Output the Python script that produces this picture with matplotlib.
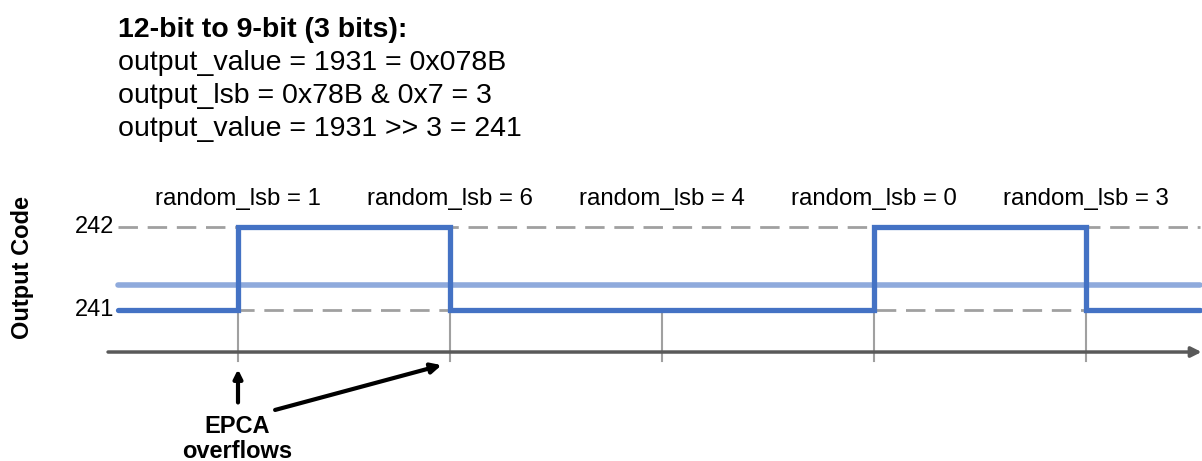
import matplotlib.pyplot as plt

plt.rcParams['font.family'] = ['Liberation Sans', 'DejaVu Sans']

# ---- data ----
header_lines = ["output_value = 1931 = 0x078B",
                "output_lsb = 0x78B & 0x7 = 3",
                "output_value = 1931 >> 3 = 241"]
header_title = "12-bit to 9-bit (3 bits):"

boundaries = [1, 2, 3, 4, 5]            # EPCA overflow instants (periods)
random_lsb = [1, 6, 4, 0, 3]
seg_edges = [0.434, 1, 2, 3, 4, 5, 5.538]
out_codes = [241, 242, 241, 241, 242, 241]
avg_code = 241.3                      # average output level (light line)
code_ticks = [241, 242]

BLUE = '#4472C4'
LIGHT = '#8FAADC'
GRAY = '#A0A0A0'
DARK = '#595959'

fig = plt.figure(figsize=(12.02, 4.61), dpi=100)
ax = fig.add_axes([0, 0, 1, 1])
ax.set_xlim(-0.1226, 5.547)
ax.set_ylim(239.175, 244.729)
ax.axis('off')

x0, x1 = seg_edges[0], seg_edges[-1]

# dashed reference levels
for c in code_ticks:
    ax.plot([x0, x1], [c, c], color=GRAY, lw=2, ls=(0, (7, 3.5)), zorder=1)
    ax.text(x0 - 0.02, c, str(c), ha='right', va='center', fontsize=17)

# vertical tick lines at boundaries
axis_y = 240.488
for b in boundaries:
    ax.plot([b, b], [241, 240.38], color=GRAY, lw=1.5, zorder=1)

# time axis with arrow
ax.annotate('', xy=(5.545, axis_y), xytext=(0.387, axis_y),
            arrowprops=dict(arrowstyle='-|>,head_length=0.6,head_width=0.3',
                            color=DARK, lw=2.5, shrinkA=0, shrinkB=0), zorder=2)

# average level and output code
ax.plot([x0, x1], [avg_code, avg_code], color=LIGHT, lw=4, solid_capstyle='round', zorder=3)
ax.step(seg_edges, out_codes + [out_codes[-1]], where='post', color=BLUE, lw=3.8,
        solid_capstyle='round', solid_joinstyle='miter', zorder=4)

# random_lsb labels
for b, r in zip(boundaries, random_lsb):
    ax.text(b, 242.33, f"random_lsb = {r}", ha='center', va='center', fontsize=17.3)

# header text
fig.text(118 / 1202, 1 - 30 / 461, header_title, fontsize=20.5, fontweight='bold', va='center')
for i, line in enumerate(header_lines):
    fig.text(118 / 1202, 1 - (63 + 33 * i) / 461, line, fontsize=20.5, va='center')

# y label
fig.text(22 / 1202, 1 - 267 / 461, "Output Code", rotation=90, fontsize=17,
         fontweight='bold', ha='center', va='center')

# EPCA overflow annotation
ax.annotate('', xy=(1, 240.28), xytext=(1, 239.88),
            arrowprops=dict(arrowstyle='-|>,head_length=0.5,head_width=0.25',
                            color='black', lw=3, shrinkA=0, shrinkB=0))
ax.annotate('', xy=(1.96, 240.33), xytext=(1.175, 239.79),
            arrowprops=dict(arrowstyle='-|>,head_length=0.6,head_width=0.3',
                            color='black', lw=3, shrinkA=0, shrinkB=0))
ax.text(0.995, 239.73, "EPCA\noverflows", ha='center', va='top', fontsize=17,
        fontweight='bold', linespacing=1.1)

fig.savefig('out.png', dpi=100)
